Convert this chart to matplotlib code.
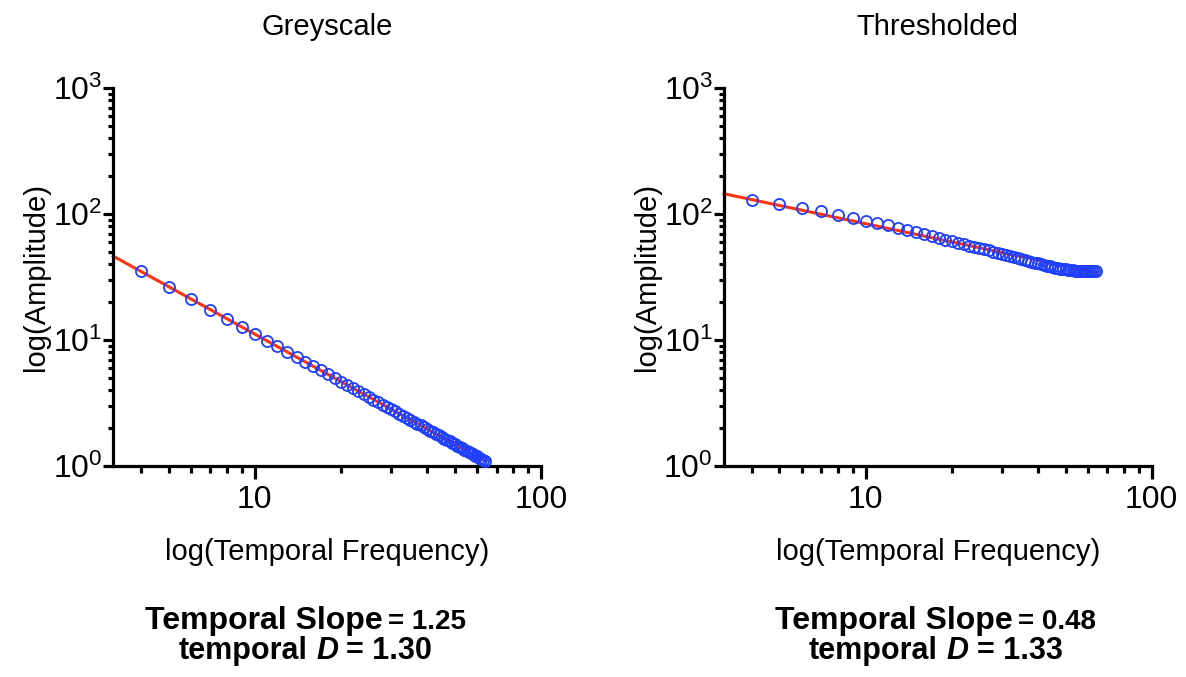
import matplotlib
matplotlib.use("Agg")
import matplotlib.pyplot as plt
from matplotlib.ticker import LogLocator, FixedLocator, FixedFormatter, NullFormatter
from matplotlib.offsetbox import TextArea, HPacker, AnnotationBbox
import numpy as np

plt.rcParams['font.family'] = ['Liberation Sans', 'DejaVu Sans']
plt.rcParams['mathtext.fontset'] = 'custom'
plt.rcParams['mathtext.rm'] = 'Liberation Sans'
plt.rcParams['mathtext.it'] = 'Liberation Sans:italic'
plt.rcParams['mathtext.bf'] = 'Liberation Sans:bold'

# Data
FREQ = list(range(4, 65))
GREY_AMP = [35.0, 26.4, 21.2, 17.4, 14.8, 12.7, 11.1, 9.9, 8.9, 8.0,
            7.3, 6.7, 6.2, 5.75, 5.35, 4.98, 4.68, 4.40, 4.16, 3.93,
            3.73, 3.54, 3.37, 3.22, 3.07, 2.94, 2.85, 2.71, 2.60, 2.50,
            2.41, 2.33, 2.25, 2.17, 2.10, 2.03, 1.97, 1.91, 1.85, 1.80,
            1.75, 1.70, 1.65, 1.61, 1.57, 1.53, 1.49, 1.45, 1.42, 1.38,
            1.35, 1.32, 1.29, 1.26, 1.24, 1.21, 1.19, 1.16, 1.14, 1.12, 1.10]
THRESH_AMP = [129.0, 121.0, 112.0, 105.0, 98.0, 93.5, 88.0, 84.5, 81.3, 77.5,
              74.3, 71.6, 69.0, 66.9, 64.5, 62.6, 60.6, 59.0, 57.6, 56.2,
              54.9, 53.7, 52.5, 51.4, 50.3, 49.3, 48.3, 47.4, 46.5, 45.6,
              44.8, 44.0, 43.2, 42.5, 41.8, 41.1, 40.5, 39.9, 39.4, 38.9,
              38.4, 38.0, 37.6, 37.2, 36.9, 36.6, 36.3, 36.1, 35.9, 35.7,
              35.5, 35.4, 35.3, 35.2, 35.1, 35.1, 35.0, 35.0, 35.0, 35.0, 35.0]

TITLES = ["Greyscale", "Thresholded"]
FIT_SLOPE = [1.25, 0.48]
FIT_AMP_AT_1 = [198.0, 253.0]   # fitted amplitude at frequency 1
TEMPORAL_D = [1.30, 1.33]

XMIN, XMAX = 3.2, 100
RED = "#FF3311"
BLUE = "#1F3FFF"
TEXT_X = [0.45, 0.495]


def style_axis(ax):
    ax.set_xscale("log")
    ax.set_yscale("log")
    ax.set_xlim(XMIN, XMAX)
    ax.set_ylim(1, 1000)
    for side in ["top", "right"]:
        ax.spines[side].set_visible(False)
    for side in ["left", "bottom"]:
        ax.spines[side].set_linewidth(2.3)
    ax.xaxis.set_major_locator(FixedLocator([10, 100]))
    ax.xaxis.set_major_formatter(FixedFormatter(["10", "100"]))
    ax.xaxis.set_minor_locator(LogLocator(base=10, subs=np.arange(2, 10)))
    ax.xaxis.set_minor_formatter(NullFormatter())
    ax.yaxis.set_major_locator(LogLocator(base=10, numticks=10))
    ax.yaxis.set_minor_locator(LogLocator(base=10, subs=np.arange(2, 10), numticks=10))
    ax.yaxis.set_minor_formatter(NullFormatter())
    ax.tick_params(which="major", width=2.3, labelsize=23)
    ax.tick_params(which="minor", width=2.3)
    ax.tick_params(axis="x", which="major", length=9, pad=5)
    ax.tick_params(axis="x", which="minor", length=5)
    ax.tick_params(axis="y", which="major", length=7, pad=1)
    ax.tick_params(axis="y", which="minor", length=3.5)
    ax.set_xlabel("log(Temporal Frequency)", fontsize=21, labelpad=16)
    ax.set_ylabel("log(Amplitude)", fontsize=21, labelpad=2)


def main():
    fig = plt.figure(figsize=(11.86, 6.77), dpi=100)
    ax_left = fig.add_axes([0.0955, 0.3117, 0.3605, 0.5583])
    ax_right = fig.add_axes([0.6105, 0.3117, 0.3605, 0.5583])
    datasets = [GREY_AMP, THRESH_AMP]

    for i, ax in enumerate([ax_left, ax_right]):
        style_axis(ax)
        x = np.array(FREQ, dtype=float)
        # fitted power law line
        xfit = np.array([XMIN, x.max()])
        yfit = FIT_AMP_AT_1[i] * xfit ** (-FIT_SLOPE[i])
        ax.plot(xfit, yfit, color=RED, linewidth=2.2, zorder=2, clip_on=False)
        ax.plot(x, datasets[i], linestyle="none", marker="o", markersize=8,
                markerfacecolor="none", markeredgecolor=BLUE, markeredgewidth=1.3,
                zorder=3, clip_on=False)
        ax.set_title(TITLES[i], fontsize=21, pad=38)

        # slope / D annotation under the axis
        line1 = HPacker(children=[
            TextArea("Temporal Slope", textprops=dict(fontsize=23, fontweight="bold")),
            TextArea(f"= {FIT_SLOPE[i]:.2f}", textprops=dict(fontsize=20, fontweight="bold")),
        ], align="baseline", pad=0, sep=4)
        line2 = HPacker(children=[
            TextArea("temporal", textprops=dict(fontsize=22, fontweight="bold")),
            TextArea("D", textprops=dict(fontsize=22, fontweight="bold", style="italic")),
            TextArea(f"= {TEMPORAL_D[i]:.2f}", textprops=dict(fontsize=22, fontweight="bold")),
        ], align="baseline", pad=0, sep=6)
        ab1 = AnnotationBbox(line1, (TEXT_X[i], -0.41), xycoords="axes fraction",
                             frameon=False, box_alignment=(0.5, 0.5))
        ab2 = AnnotationBbox(line2, (TEXT_X[i], -0.49), xycoords="axes fraction",
                             frameon=False, box_alignment=(0.5, 0.5))
        ax.add_artist(ab1)
        ax.add_artist(ab2)

    fig.savefig("out.png", dpi=100)


if __name__ == "__main__":
    main()
